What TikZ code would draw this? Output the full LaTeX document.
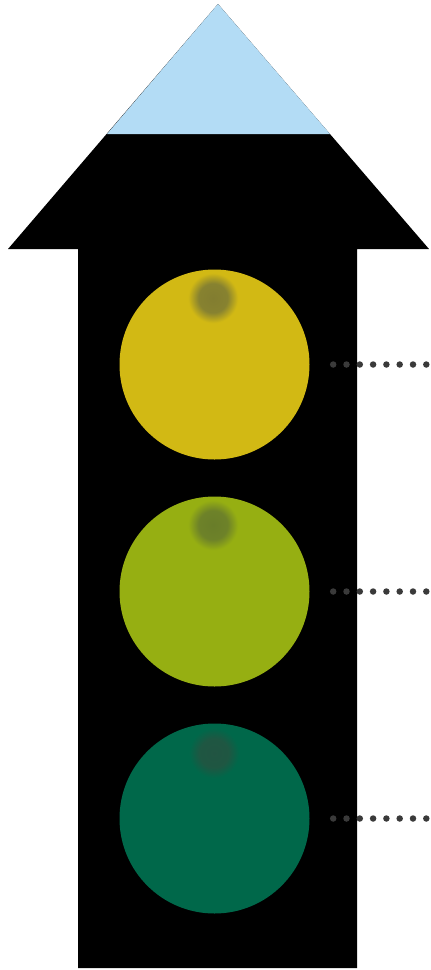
\documentclass[tikz,border=0pt]{standalone}
\definecolor{skyb}{RGB}{179,220,245}
\definecolor{lyel}{RGB}{210,185,20}
\definecolor{lgrn}{RGB}{150,175,18}
\definecolor{ltea}{RGB}{0,104,74}
\definecolor{dotc}{RGB}{58,58,58}
\pgfdeclareradialshading{spotY}{\pgfpoint{0bp}{0bp}}{rgb(0bp)=(0.51,0.49,0.19); rgb(14bp)=(0.53,0.51,0.19); rgb(24bp)=(0.824,0.725,0.078); rgb(50bp)=(0.824,0.725,0.078)}
\pgfdeclareradialshading{spotG}{\pgfpoint{0bp}{0bp}}{rgb(0bp)=(0.41,0.49,0.16); rgb(14bp)=(0.43,0.51,0.16); rgb(24bp)=(0.588,0.686,0.071); rgb(50bp)=(0.588,0.686,0.071)}
\pgfdeclareradialshading{spotT}{\pgfpoint{0bp}{0bp}}{rgb(0bp)=(0.13,0.33,0.26); rgb(14bp)=(0.12,0.34,0.26); rgb(24bp)=(0,0.408,0.29); rgb(50bp)=(0,0.408,0.29)}
\begin{document}
\begin{tikzpicture}[x=1pt,y=-1pt,
  lamp/.style={circle,inner sep=0pt,minimum size=190pt},
  dotline/.style={draw=dotc,line width=6.5pt,line cap=round,dash pattern=on 0pt off 13.3pt}]
\useasboundingbox (0,0) rectangle (431,970);
% arrow body
\fill[black] (218,4) -- (429,249) -- (357,249) -- (357,968) -- (78,968) -- (78,249) -- (8,249) -- cycle;
% light blue tip
\fill[skyb] (218,4) -- (330,134) -- (107,134) -- cycle;
% lamps
\node[lamp,fill=lyel] (ly) at (214.5,364.5) {};
\node[lamp,fill=lgrn] (lg) at (214.5,591.5) {};
\node[lamp,fill=ltea] (lt) at (214.5,818.5) {};
\begin{scope}
\clip (214.5,364.5) circle (95);
\shade[shading=spotY] (213,298) circle (26);
\end{scope}
\begin{scope}
\clip (214.5,591.5) circle (95);
\shade[shading=spotG] (213,525) circle (26);
\end{scope}
\begin{scope}
\clip (214.5,818.5) circle (95);
\shade[shading=spotT] (214,753) circle (26);
\end{scope}
% dotted leaders
\coordinate (ey) at (426.5,364.5);
\coordinate (eg) at (426.5,591.5);
\coordinate (et) at (426.5,818.5);
\path[dotline] ([xshift=23.5pt]ly.east) -- (ey);
\path[dotline] ([xshift=23.5pt]lg.east) -- (eg);
\path[dotline] ([xshift=23.5pt]lt.east) -- (et);
\end{tikzpicture}
\end{document}
